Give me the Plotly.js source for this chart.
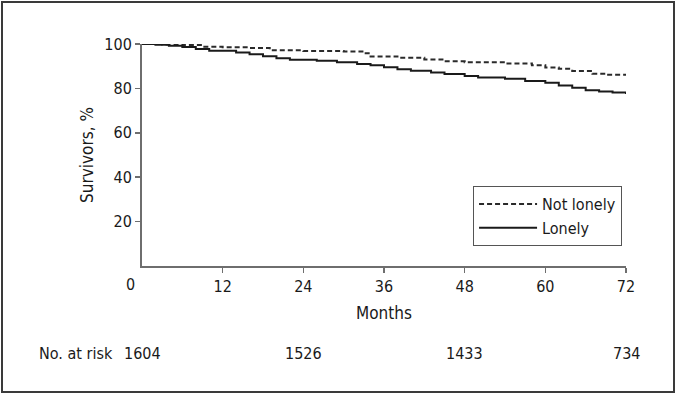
<!DOCTYPE html>
<html><head><meta charset="utf-8">
<script src="https://cdn.plot.ly/plotly-3.0.1.min.js"></script>
<style>
body{margin:0;padding:0;background:#fff;}
#wrap{position:relative;width:676px;height:394px;}
#chart{width:676px;height:394px;}
#frame{position:absolute;left:1px;top:1px;width:674px;height:392px;box-sizing:border-box;border:2px solid #3a3a3a;pointer-events:none;}
</style></head>
<body>
<div id="wrap"><div id="chart"></div><div id="frame"></div></div>
<script>
// Not lonely (dashed) Kaplan-Meier step points
const notLonelyMonths = [0, 3, 6, 9, 12, 16, 19, 24, 30, 33, 34, 38, 42, 45, 48, 54, 58, 60, 62, 64, 67, 69, 72];
const notLonelySurv   = [100, 99.8, 99.5, 98.8, 98.5, 98.2, 97.2, 96.9, 96.6, 95.8, 94.4, 93.8, 93.0, 92.2, 91.8, 91.2, 90.4, 89.4, 88.8, 87.8, 86.6, 86.1, 85.8];
// Lonely (solid)
const lonelyMonths = [0, 2, 4, 6, 8, 10, 14, 16, 18, 20, 22, 26, 29, 32, 34, 36, 38, 40, 43, 45, 48, 50, 54, 57, 60, 62, 64, 66, 68, 70, 72];
const lonelySurv   = [100, 99.7, 99.2, 98.6, 97.8, 97.0, 96.2, 95.4, 94.5, 93.6, 92.9, 92.5, 91.8, 91.0, 90.4, 89.5, 88.6, 88.0, 87.2, 86.5, 85.6, 84.9, 84.4, 83.3, 82.6, 81.3, 80.3, 79.2, 78.6, 78.2, 77.5];
// Tick labels
const xTicks = [12, 24, 36, 48, 60, 72];
const yTicks = [20, 40, 60, 80, 100];
// Number at risk
const riskMonths = [0, 24, 48, 72];
const riskCounts = ["1604", "1526", "1433", "734"];

const FONT = '"Liberation Sans Narrow", "Arial Narrow", "DejaVu Sans Condensed", "Liberation Sans", sans-serif';
const INK = '#1a1a1a';
const AX = '#6e6e6e';

const traces = [
  {x: notLonelyMonths, y: notLonelySurv, name: 'Not lonely', mode: 'lines',
   line: {shape: 'hv', dash: '5px,3px', color: '#2a2a2a', width: 2}},
  {x: lonelyMonths, y: lonelySurv, name: 'Lonely', mode: 'lines',
   line: {shape: 'hv', color: '#1a1a1a', width: 2}}
];

const annotations = [
  {x: 0, y: 0, xref: 'x', yref: 'y', text: '0', showarrow: false, xanchor: 'center', yanchor: 'top',
   xshift: -12, yshift: -7, font: {family: FONT, size: 16, color: INK}},
  {x: -0.217, y: -0.396, xref: 'paper', yref: 'paper', text: 'No. at risk', showarrow: false,
   xanchor: 'left', yanchor: 'middle', font: {family: FONT, size: 16, color: INK}}
];
riskMonths.forEach((m, i) => annotations.push({
  x: m, y: -0.396, xref: 'x', yref: 'paper', text: riskCounts[i], showarrow: false,
  xanchor: 'center', yanchor: 'middle', font: {family: FONT, size: 16, color: INK}
}));

const layout = {
  width: 676, height: 394,
  margin: {l: 142, r: 50, t: 44, b: 128},
  paper_bgcolor: '#fff', plot_bgcolor: '#fff',
  font: {family: FONT, size: 16, color: INK},
  showlegend: true,
  legend: {x: 0.684, y: 0.36, xanchor: 'left', yanchor: 'top',
           bordercolor: '#555', borderwidth: 1, bgcolor: '#fff', itemwidth: 58,
           font: {family: FONT, size: 16, color: INK}, tracegroupgap: 0},
  xaxis: {range: [0, 72], tickvals: xTicks, ticktext: xTicks.map(String),
          showline: true, linecolor: AX, linewidth: 2, ticks: 'outside', ticklen: 5, tickwidth: 1.5,
          tickcolor: AX, showgrid: false, zeroline: false, fixedrange: true,
          tickfont: {family: FONT, size: 16, color: INK},
          title: {text: 'Months', standoff: 12, font: {family: FONT, size: 17, color: INK}}},
  yaxis: {range: [0, 100], tickvals: yTicks, ticktext: yTicks.map(String),
          showline: true, linecolor: AX, linewidth: 2, ticks: 'outside', ticklen: 5, tickwidth: 1.5,
          tickcolor: AX, showgrid: false, zeroline: false, fixedrange: true,
          tickfont: {family: FONT, size: 16, color: INK},
          title: {text: 'Survivors, %', standoff: 6, font: {family: FONT, size: 17, color: INK}}},
  annotations: annotations
};

Plotly.newPlot('chart', traces, layout, {displayModeBar: false, staticPlot: true});
</script>
</body></html>
